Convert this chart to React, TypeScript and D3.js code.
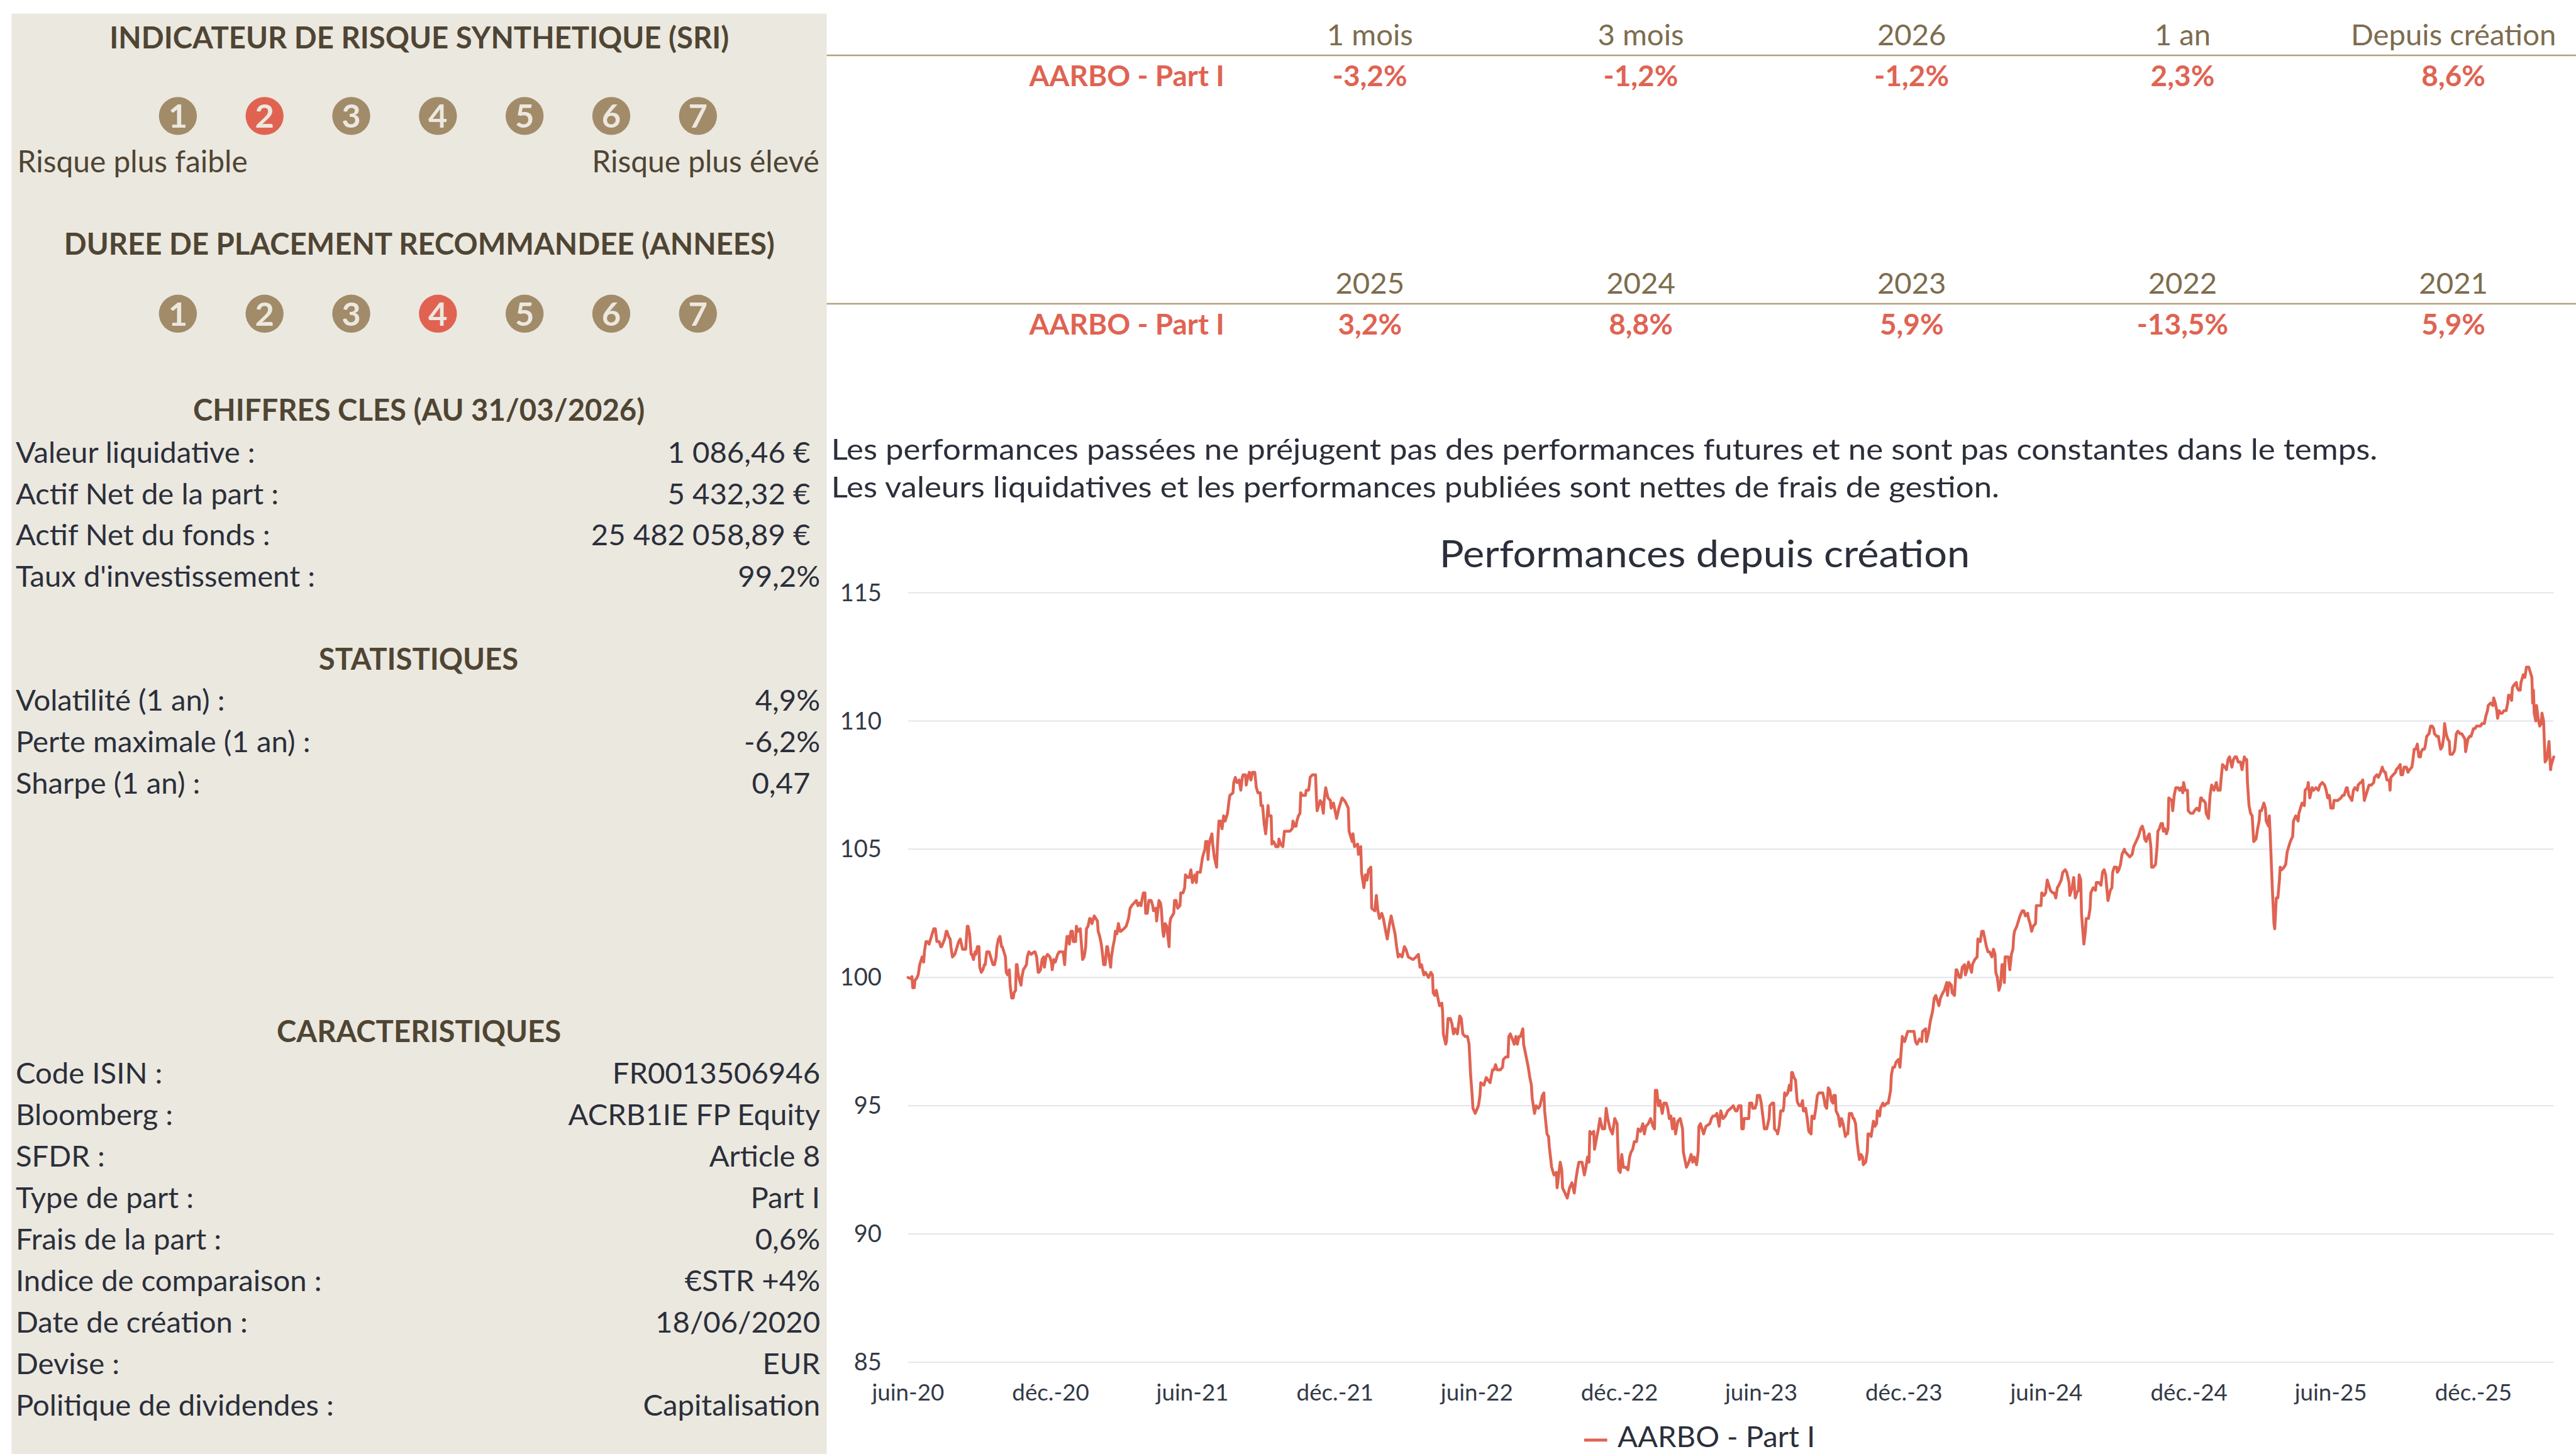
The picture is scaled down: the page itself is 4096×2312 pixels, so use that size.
import React from "react";
import * as d3 from "d3";

// ---------- scale from reference pixels to window ----------
const S = 0.6563;
const W = 4096;
const H = 2312;

// ---------- data ----------
const sriLevels = [1, 2, 3, 4, 5, 6, 7];
const sriSelected = 2;
const durationSelected = 4;

const keyFigureLabels = ["Valeur liquidative :", "Actif Net de la part :", "Actif Net du fonds :", "Taux d'investissement :"];
const keyFigureValues = ["1 086,46 €\u2004", "5 432,32 €\u2004", "25 482 058,89 €\u2004", "99,2%"];

const statLabels = ["Volatilité (1 an) :", "Perte maximale (1 an) :", "Sharpe (1 an) :"];
const statValues = ["4,9%", "-6,2%", "0,47\u2004"];

const charLabels = ["Code ISIN :", "Bloomberg :", "SFDR :", "Type de part :", "Frais de la part :", "Indice de comparaison :", "Date de création :", "Devise :", "Politique de dividendes :"];
const charValues = ["FR0013506946", "ACRB1IE FP Equity", "Article 8", "Part I", "0,6%", "€STR +4%", "18/06/2020", "EUR", "Capitalisation"];

const shareName = "AARBO - Part I";
const perfHeaders1 = ["1 mois", "3 mois", "2026", "1 an", "Depuis création"];
const perfValues1 = ["-3,2%", "-1,2%", "-1,2%", "2,3%", "8,6%"];
const perfHeaders2 = ["2025", "2024", "2023", "2022", "2021"];
const perfValues2 = ["3,2%", "8,8%", "5,9%", "-13,5%", "5,9%"];

const disclaimerLines = [
  "Les performances passées ne préjugent pas des performances futures et ne sont pas constantes dans le temps.",
  "Les valeurs liquidatives et les performances publiées sont nettes de frais de gestion.",
];
const chartTitle = "Performances depuis création";

const launchDate = "2020-06-18";
const lastDate = "2026-03-31";
const yTicks = [85, 90, 95, 100, 105, 110, 115];
const xTickDates = ["2020-06-18", "2020-12-18", "2021-06-18", "2021-12-18", "2022-06-18", "2022-12-18", "2023-06-18", "2023-12-18", "2024-06-18", "2024-12-18", "2025-06-18", "2025-12-18"];
const xTickLabels = ["juin-20", "déc.-20", "juin-21", "déc.-21", "juin-22", "déc.-22", "juin-23", "déc.-23", "juin-24", "déc.-24", "juin-25", "déc.-25"];

// [days since launch, base-100 value]
const navSeries: [number, number][] = [
[0,100.0],[3,99.96],[5,100.03],[6,99.6],[8,99.6],[9,99.9],[11,99.96],[13,100.1],[15,100.5],[16,100.6],[18,100.8],[20,100.6],[21,101.0],[23,101.4],[25,101.4],[27,101.3],[28,101.4],[30,101.6],[32,101.8],[33,101.9],[35,101.9],[37,101.4],[40,101.4],[42,101.2],[43,101.2],[47,101.5],[49,101.8],[50,101.8],[52,101.6],[54,101.5],[55,101.2],[57,100.8],[60,100.9],[62,101.1],[65,101.4],[67,101.5],[70,101.1],[74,101.1],[76,102.0],[77,102.0],[79,101.7],[81,100.9],[82,100.9],[84,100.7],[86,101.0],[87,100.9],[89,101.2],[91,101.2],[92,100.4],[94,100.2],[96,100.3],[98,100.5],[99,100.5],[101,101.0],[104,101.0],[106,100.8],[108,100.6],[109,100.5],[111,100.5],[113,100.8],[114,101.2],[116,101.5],[118,101.6],[120,101.2],[121,101.2],[125,100.8],[126,100.2],[128,100.1],[130,100.3],[131,99.7],[133,99.2],[135,99.2],[136,99.4],[138,99.5],[139,100.5],[140,100.5],[141,100.2],[143,99.9],[145,99.7],[146,100.0],[148,100.3],[152,100.5],[153,100.8],[155,101.0],[158,100.9],[162,101.0],[163,101.0],[165,100.8],[167,100.2],[168,100.2],[170,100.3],[172,100.7],[174,100.8],[175,100.4],[177,100.8],[179,100.9],[182,100.8],[184,100.6],[185,100.3],[187,100.7],[189,100.6],[192,100.9],[194,101.0],[197,101.0],[199,101.0],[201,100.5],[202,101.0],[204,101.6],[206,101.6],[207,101.3],[209,101.8],[211,101.8],[212,101.4],[215,101.4],[216,102.0],[218,101.8],[221,101.9],[222,101.5],[224,100.7],[226,100.8],[228,101.2],[229,101.9],[231,102.0],[233,102.3],[234,102.3],[236,102.1],[239,102.4],[241,102.3],[243,102.2],[244,101.8],[246,101.6],[248,101.3],[250,100.8],[251,100.5],[253,100.5],[255,101.2],[256,101.2],[258,100.8],[260,100.4],[261,100.8],[263,101.2],[265,101.5],[266,101.8],[268,101.7],[270,102.1],[272,101.8],[273,101.8],[277,101.9],[280,102.0],[283,102.3],[285,102.7],[287,102.8],[290,102.9],[293,103.0],[295,102.8],[297,102.9],[299,102.8],[300,103.0],[302,103.3],[304,103.3],[305,102.5],[307,102.5],[309,103.0],[312,103.0],[314,102.8],[315,102.6],[318,102.7],[319,102.2],[322,103.0],[324,102.9],[325,102.7],[327,101.8],[328,101.6],[329,101.8],[330,102.1],[332,102.0],[335,101.2],[336,102.1],[337,102.3],[341,102.5],[342,103.0],[344,103.0],[346,102.7],[349,102.8],[350,103.3],[353,103.3],[355,103.5],[356,104.0],[359,103.9],[361,103.9],[363,104.2],[365,103.7],[368,104.0],[370,103.7],[371,104.1],[375,104.1],[376,104.3],[378,104.7],[380,104.9],[381,105.0],[382,105.3],[384,105.3],[385,104.6],[386,105.1],[388,105.4],[390,105.6],[391,105.2],[393,104.7],[396,104.3],[397,105.1],[399,106.1],[401,106.1],[403,105.8],[405,106.3],[407,106.1],[410,106.4],[412,106.9],[413,107.1],[417,107.2],[418,107.6],[420,107.8],[422,107.6],[423,107.6],[425,107.7],[427,107.3],[429,107.8],[430,107.9],[433,107.9],[434,107.5],[436,107.8],[438,108.0],[440,107.7],[442,108.0],[445,108.0],[446,107.7],[447,107.4],[449,107.2],[452,107.2],[453,106.7],[455,106.7],[457,106.0],[459,105.6],[461,106.3],[462,106.7],[463,106.3],[466,106.3],[467,105.2],[469,105.3],[471,105.2],[472,105.1],[475,105.1],[476,105.4],[478,105.2],[481,105.1],[483,105.7],[486,105.7],[489,105.7],[490,105.7],[493,105.8],[494,106.1],[496,105.9],[498,105.9],[499,106.1],[501,106.3],[503,106.4],[504,107.2],[506,107.1],[510,107.1],[511,107.3],[514,107.3],[515,107.5],[516,107.8],[519,107.9],
[523,107.9],[524,107.1],[525,106.5],[529,106.9],[531,106.8],[533,106.4],[534,106.9],[536,107.4],[539,107.0],[542,106.9],[543,106.6],[546,106.8],[550,106.2],[553,106.6],[555,106.8],[557,107.0],[560,106.9],[562,106.8],[565,106.6],[566,105.7],[570,105.3],[571,105.6],[573,105.1],[577,105.2],[578,104.8],[581,105.1],[582,104.1],[585,103.5],[587,104.0],[589,103.8],[591,104.2],[594,104.3],[595,102.7],[599,102.6],[601,103.2],[603,102.6],[605,102.3],[608,102.5],[610,102.3],[613,101.8],[615,101.5],[618,102.1],[620,102.4],[625,101.7],[627,101.2],[629,100.8],[631,100.9],[634,100.8],[637,101.2],[639,101.1],[642,100.8],[648,100.7],[652,100.8],[655,100.9],[657,100.4],[659,100.5],[662,100.1],[664,100.2],[668,100.0],[671,100.2],[673,100.1],[674,99.4],[676,99.3],[678,99.5],[680,99.2],[682,98.9],[685,99.0],[686,98.7],[687,97.8],[690,97.4],[691,97.5],[693,98.4],[696,98.4],[698,98.2],[700,97.8],[702,98.0],[705,97.8],[708,98.5],[710,98.4],[712,97.8],[715,97.7],[718,97.7],[720,97.4],[722,96.2],[724,95.4],[725,94.9],[728,94.7],[732,95.0],[734,95.4],[735,95.9],[739,95.8],[742,96.1],[747,95.9],[750,96.4],[752,96.4],[754,96.6],[756,96.4],[760,96.4],[763,96.5],[764,96.8],[767,96.9],[770,96.9],[771,97.7],[773,97.8],[778,97.4],[780,97.7],[782,97.4],[784,97.7],[786,97.7],[789,98.0],[790,97.4],[792,97.1],[794,96.8],[796,96.5],[798,96.1],[800,95.8],[801,95.3],[804,94.7],[806,95.0],[809,94.9],[811,95.0],[814,95.4],[816,95.5],[817,94.8],[820,93.9],[822,93.8],[823,93.4],[826,92.6],[829,92.3],[832,92.4],[833,91.8],[835,92.3],[837,92.8],[839,92.5],[840,91.8],[843,91.6],[846,91.4],[849,91.8],[852,92.0],[855,91.6],[857,92.1],[859,92.5],[861,92.8],[865,92.8],[868,92.3],[870,92.6],[872,93.0],[874,92.8],[875,94.0],[877,93.9],[880,94.0],[881,93.3],[884,93.8],[886,94.1],[888,94.5],[891,94.1],[894,94.1],[896,94.9],[898,94.5],[901,94.1],[904,93.9],[907,94.5],[910,94.3],[912,92.5],[914,92.4],[916,93.1],[918,92.6],[921,92.6],[924,92.5],[926,93.0],[928,93.2],[930,93.3],[932,93.6],[935,93.6],[937,94.1],[940,94.0],[943,94.3],[945,93.9],[947,94.2],[950,94.3],[953,94.5],[956,94.2],[958,94.1],[959,95.6],[961,95.6],[963,95.0],[965,95.2],[968,94.7],[970,95.1],[973,95.1],[975,94.9],[977,94.5],[979,94.6],[981,94.1],[983,94.5],[985,93.9],[988,94.4],[991,94.5],[994,94.1],[995,93.2],[997,92.9],[999,92.6],[1002,92.8],[1005,93.1],[1007,92.8],[1009,93.0],[1012,92.7],[1014,93.2],[1015,94.2],[1017,94.3],[1021,93.9],[1024,94.2],[1029,94.3],[1031,94.5],[1033,94.6],[1036,94.6],[1038,94.7],[1041,94.2],[1043,94.8],[1046,94.5],[1049,94.6],
[1052,94.8],[1056,94.9],[1059,95.0],[1062,94.8],[1064,94.8],[1066,95.0],[1069,95.0],[1070,94.1],[1072,94.1],[1073,94.5],[1076,94.5],[1079,94.5],[1080,95.1],[1083,95.1],[1084,94.9],[1087,94.9],[1089,95.1],[1090,95.4],[1093,95.4],[1095,95.1],[1097,94.6],[1099,94.1],[1102,94.1],[1105,94.5],[1106,95.0],[1109,95.1],[1111,95.1],[1112,94.1],[1115,94.0],[1116,93.9],[1118,94.2],[1120,94.8],[1123,94.8],[1124,95.0],[1125,95.5],[1127,95.4],[1129,95.5],[1131,95.8],[1133,95.6],[1134,96.3],[1135,96.3],[1137,96.1],[1139,96.0],[1141,95.2],[1142,95.1],[1144,95.0],[1146,95.0],[1148,95.2],[1149,94.8],[1150,94.8],[1152,94.9],[1154,94.5],[1156,94.0],[1159,93.9],[1160,94.6],[1163,94.5],[1165,94.9],[1167,95.4],[1169,95.5],[1171,95.5],[1174,95.5],[1176,95.2],[1177,95.0],[1179,94.9],[1181,95.7],[1183,95.6],[1185,95.2],[1187,95.1],[1188,95.4],[1190,95.4],[1191,94.8],[1194,94.6],[1196,94.2],[1198,94.5],[1200,94.3],[1203,93.8],[1204,93.9],[1206,93.9],[1208,94.7],[1211,94.7],[1213,94.5],[1214,94.5],[1216,94.3],[1218,93.6],[1220,93.1],[1221,92.9],[1223,93.1],[1225,93.0],[1226,92.7],[1229,92.8],[1231,93.2],[1232,93.9],[1234,93.9],[1236,93.8],[1239,94.4],[1241,94.2],[1243,94.3],[1244,94.8],[1247,94.6],[1248,94.9],[1251,95.1],[1253,95.0],[1256,95.1],[1258,95.1],[1261,95.6],[1262,96.2],[1264,96.5],[1266,96.5],[1268,96.7],[1271,96.8],[1273,96.5],[1275,97.3],[1276,97.7],[1279,97.5],[1281,97.7],[1283,97.9],[1285,97.9],[1288,97.9],[1291,97.9],[1293,97.5],[1295,97.4],[1298,97.6],[1301,97.5],[1302,97.9],[1306,98.0],[1307,97.5],[1310,97.9],[1312,98.3],[1315,98.7],[1317,99.2],[1319,99.3],[1322,99.0],[1323,98.9],[1325,99.2],[1328,99.4],[1330,99.5],[1333,99.8],[1334,99.3],[1336,99.8],[1339,99.7],[1340,99.4],[1343,99.3],[1345,100.3],[1346,100.3],[1349,100.0],[1351,100.0],[1353,100.4],[1356,100.5],[1357,100.1],[1359,100.3],[1361,100.6],[1363,100.4],[1365,100.2],[1366,100.5],[1369,100.7],[1372,100.8],[1373,101.5],[1376,101.4],[1378,101.8],[1380,101.8],[1382,101.5],[1384,101.2],[1386,101.0],[1388,101.0],[1391,100.8],[1393,101.1],[1395,100.9],[1396,100.2],[1398,100.0],[1400,99.5],[1402,99.7],[1404,100.5],[1405,100.5],[1407,99.8],[1408,100.8],[1410,100.8],[1412,100.8],[1414,100.3],[1416,100.9],[1418,101.1],[1419,101.6],[1420,101.8],[1423,102.0],[1427,102.4],[1430,102.6],[1432,102.6],[1434,102.4],[1437,102.5],[1438,102.3],[1440,102.1],[1442,101.8],[1444,102.0],[1447,102.1],[1448,102.8],[1451,102.8],[1454,102.8],[1455,103.3],[1458,103.2],[1460,103.3],[1462,103.8],[1464,103.6],[1466,103.4],[1469,103.3],[1471,103.3],[1473,103.1],[1475,103.5],[1477,103.6],[1480,103.8],[1482,104.1],[1485,104.2],[1487,104.1],[1490,103.7],[1491,103.2],[1494,103.5],[1496,103.9],[1498,103.1],[1500,103.3],[1502,103.4],[1503,104.0],[1505,103.8],[1506,102.5],[1508,101.7],[1509,101.3],[1511,101.8],[1512,102.3],[1515,102.3],[1517,102.7],[1518,103.3],[1521,103.5],[1524,103.4],[1525,103.7],[1528,103.7],[1531,103.6],[1533,104.1],[1535,104.2],[1537,104.0],[1539,103.3],[1540,103.0],[1543,103.4],[1545,103.5],[1546,104.1],[1548,104.3],[1551,104.3],[1552,104.1],[1554,104.2],[1556,104.4],[1558,104.8],[1561,105.0],[1562,104.9],[1565,104.8],[1568,104.7],[1571,104.8],[1573,105.1],[1576,105.3],[1579,105.5],
[1580,105.6],[1582,105.8],[1584,105.9],[1586,105.7],[1587,105.4],[1589,105.3],[1591,105.5],[1593,105.6],[1595,105.1],[1596,104.3],[1598,104.3],[1601,104.4],[1603,105.1],[1604,105.7],[1606,105.8],[1608,106.0],[1610,106.0],[1611,105.7],[1613,105.8],[1615,105.6],[1617,105.8],[1618,107.0],[1622,106.9],[1623,106.5],[1625,107.1],[1627,107.4],[1630,107.4],[1632,107.3],[1634,107.4],[1636,107.2],[1637,107.6],[1639,107.3],[1642,107.3],[1643,106.5],[1646,106.4],[1649,106.4],[1651,106.5],[1654,106.6],[1657,106.5],[1659,107.0],[1660,107.0],[1661,106.9],[1663,106.9],[1665,106.8],[1666,106.4],[1669,106.2],[1671,107.1],[1673,107.5],[1676,107.3],[1679,107.6],[1681,107.3],[1684,107.3],[1685,107.7],[1687,108.3],[1690,108.2],[1692,108.1],[1694,108.5],[1696,108.6],[1699,108.2],[1701,108.5],[1703,108.6],[1705,108.6],[1707,108.4],[1710,108.4],[1712,108.1],[1715,108.6],[1716,108.5],[1718,108.5],[1719,107.6],[1721,106.7],[1723,106.4],[1725,106.3],[1727,105.3],[1730,105.4],[1732,105.8],[1734,106.1],[1735,106.5],[1737,106.5],[1740,106.8],[1742,106.6],[1743,106.1],[1746,105.9],[1747,106.3],[1748,105.7],[1751,103.4],[1753,102.1],[1754,101.9],[1756,103.1],[1758,103.1],[1760,103.8],[1761,104.3],[1763,104.2],[1766,104.3],[1768,104.4],[1770,104.9],[1772,105.1],[1774,105.3],[1777,105.5],[1778,106.1],[1781,106.3],[1784,106.1],[1785,106.4],[1787,106.6],[1789,106.8],[1792,106.7],[1793,107.3],[1796,107.4],[1797,107.6],[1799,107.0],[1802,107.4],[1804,107.3],[1807,107.4],[1810,107.3],[1812,107.5],[1815,107.6],[1818,107.5],[1820,107.3],[1822,107.0],[1824,107.1],[1826,106.6],[1829,106.6],[1830,106.9],[1833,106.9],[1835,106.9],[1839,107.0],[1841,107.1],[1843,107.1],[1846,107.4],[1847,107.4],[1849,107.1],[1853,106.9],[1855,107.3],[1857,107.4],[1860,107.3],[1861,107.5],[1864,107.6],[1865,107.6],[1867,107.7],[1869,106.9],[1871,107.1],[1873,107.3],[1875,107.5],[1878,107.5],[1881,107.6],[1882,107.8],[1885,107.9],[1887,107.8],[1890,108.0],[1892,108.2],[1893,108.1],[1895,108.0],[1896,108.0],[1898,107.7],[1901,107.7],[1902,107.3],[1903,107.8],[1906,107.9],[1909,108.0],[1910,108.1],[1913,108.2],[1915,108.3],[1916,107.9],[1918,107.9],[1920,108.2],[1923,108.2],[1925,108.0],[1927,108.1],[1930,108.2],[1931,108.4],[1933,108.9],[1935,108.9],[1937,109.1],[1939,108.6],[1941,108.6],[1942,108.8],[1944,108.9],[1946,108.9],[1947,109.0],[1949,109.4],[1952,109.5],[1954,109.8],[1956,109.8],[1958,109.7],[1959,109.5],[1962,109.4],[1964,109.4],[1965,109.2],[1967,108.9],[1969,109.0],[1971,109.4],[1972,109.9],[1974,109.5],[1976,109.3],[1978,109.2],[1979,108.7],[1982,108.7],[1984,108.8],[1985,108.9],[1987,109.5],[1989,109.6],[1992,109.5],[1994,109.5],[1996,109.4],[1998,109.3],[1999,108.8],[2002,109.3],[2004,109.4],[2006,109.4],[2009,109.7],[2011,109.7],[2013,109.8],[2016,109.8],[2018,109.8],[2020,109.9],[2023,109.9],[2025,110.2],[2027,110.4],[2028,110.6],[2031,110.7],[2034,110.6],[2035,110.9],[2037,110.7],[2039,110.4],[2040,110.1],[2042,110.4],[2044,110.3],[2046,110.3],[2048,110.4],[2051,110.4],[2053,110.7],[2054,111.0],[2056,111.0],[2058,110.8],[2059,111.3],[2061,111.4],[2064,111.5],[2065,111.3],[2067,111.2],[2069,111.2],[2070,111.5],[2072,111.7],[2073,111.8],[2075,111.7],[2077,112.1],[2078,112.1],[2080,112.1],[2082,111.9],[2084,111.7],[2085,110.7],[2086,111.2],[2087,110.3],[2089,110.0],[2090,110.6],[2092,110.1],[2094,109.8],[2096,109.9],[2097,110.3],[2099,110.0],[2101,108.4],[2103,108.5],[2104,108.7],[2106,109.2],[2108,108.1],[2109,108.3],[2111,108.5],[2112,108.6]
];

// ---------- styles ----------
const FONT = "Lato, 'Open Sans', 'Noto Sans', sans-serif";
const C = {
  panel: "#ebe8e0",
  title: "#4f4533",
  text: "#2b2f3a",
  tan: "#a18b69",
  red: "#e06352",
  digit: "#ece8df",
  header: "#7d6d4e",
  rule: "#b3a07c",
  grid: "#e2e5eb",
  axis: "#333a45",
};

// layout in reference pixels
const PANEL = { x: 28, y: 33, w: 1975, right: 2003 };
const CIRCLE = { x0: 431, dx: 210, r: 46, row1: 281, row2: 760 };
const LABEL_X = 38;
const VALUE_X = 1987;
const TITLE_CX = 1016;
const COLS = { label: 2730, x0: 3319, dx: 656.3 };
const PLOT = { left: 2200, right: 6187, top: 1436, bottom: 3300.5 };
const DISCLAIMER_WIDTHS = [3746, 2830];

function Circles({ cy, selected }: { cy: number; selected: number }) {
  return (
    <g>
      {sriLevels.map((lv, i) => {
        const cx = CIRCLE.x0 + CIRCLE.dx * i;
        return (
          <g key={lv}>
            <circle cx={cx} cy={cy} r={CIRCLE.r} fill={lv === selected ? C.red : C.tan} />
            <text x={cx} y={cy + 29} textAnchor="middle" fontSize={80} fontWeight={700} fill={C.digit}>
              {lv}
            </text>
          </g>
        );
      })}
    </g>
  );
}

function Rows({ labels, values, y0 }: { labels: string[]; values: string[]; y0: number }) {
  return (
    <g fontSize={72} fill={C.text}>
      {labels.map((l, i) => (
        <g key={l}>
          <text x={LABEL_X} y={y0 + i * 100.4}>{l}</text>
          <text x={VALUE_X} y={y0 + i * 100.4} textAnchor="end">{values[i]}</text>
        </g>
      ))}
    </g>
  );
}

function PerfTable({ headers, values, headY, ruleY, rowY }: { headers: string[]; values: string[]; headY: number; ruleY: number; rowY: number }) {
  return (
    <g>
      {headers.map((h, i) => (
        <text key={h} x={COLS.x0 + COLS.dx * i} y={headY} textAnchor="middle" fontSize={72} fill={C.header}>{h}</text>
      ))}
      <line x1={PANEL.right} x2={6241} y1={ruleY} y2={ruleY} stroke={C.rule} strokeWidth={4} />
      <text x={COLS.label} y={rowY} textAnchor="middle" fontSize={70} fontWeight={700} fill={C.red}>{shareName}</text>
      {values.map((v, i) => (
        <text key={i} x={COLS.x0 + COLS.dx * i} y={rowY} textAnchor="middle" fontSize={70} fontWeight={700} fill={C.red}>{v}</text>
      ))}
    </g>
  );
}

export default function App() {
  const parse = d3.timeParse("%Y-%m-%d");
  const launch = parse(launchDate)!;
  const end = parse(lastDate)!;
  const x = d3.scaleTime().domain([launch, end]).range([PLOT.left, PLOT.right]);
  const y = d3.scaleLinear().domain([85, 115]).range([PLOT.bottom, PLOT.top]);
  const line = d3
    .line<[number, number]>()
    .x((d) => x(d3.timeDay.offset(launch, d[0])))
    .y((d) => y(d[1]));

  return (
    <svg
      width={W}
      height={H}
      viewBox={`0 0 ${W} ${H}`}
      style={{ position: "absolute", left: 0, top: 0, display: "block", background: "#ffffff" }}
      fontFamily={FONT}
    >
      <g transform={`scale(${S})`}>
        {/* left panel */}
        <rect x={PANEL.x} y={PANEL.y} width={PANEL.w} height={3523 - PANEL.y} fill={C.panel} />
        <g fontWeight={700} fontSize={72} fill={C.title} textAnchor="middle">
          <text x={TITLE_CX} y={117}>INDICATEUR DE RISQUE SYNTHETIQUE (SRI)</text>
          <text x={TITLE_CX} y={617}>DUREE DE PLACEMENT RECOMMANDEE (ANNEES)</text>
          <text x={1015} y={1019}>CHIFFRES CLES (AU 31/03/2026)</text>
          <text x={1014} y={1622}>STATISTIQUES</text>
          <text x={1015} y={2525}>CARACTERISTIQUES</text>
        </g>
        <Circles cy={CIRCLE.row1} selected={sriSelected} />
        <text x={42} y={417} fontSize={73} fill={C.title}>Risque plus faible</text>
        <text x={1985} y={417} fontSize={73} fill={C.title} textAnchor="end">Risque plus élevé</text>
        <Circles cy={CIRCLE.row2} selected={durationSelected} />
        <Rows labels={keyFigureLabels} values={keyFigureValues} y0={1121} />
        <Rows labels={statLabels} values={statValues} y0={1722} />
        <Rows labels={charLabels} values={charValues} y0={2626} />

        {/* performance tables */}
        <PerfTable headers={perfHeaders1} values={perfValues1} headY={109} ruleY={134} rowY={209} />
        <PerfTable headers={perfHeaders2} values={perfValues2} headY={711} ruleY={736} rowY={811} />

        {/* disclaimer */}
        <g fontSize={72} fill={C.text}>
          {disclaimerLines.map((t, i) => (
            <text key={i} x={2014} y={1114 + i * 91} textLength={DISCLAIMER_WIDTHS[i]} lengthAdjust="spacingAndGlyphs">{t}</text>
          ))}
        </g>

        {/* chart */}
        <text x={4130} y={1374} textAnchor="middle" fontSize={91} fill={C.text} textLength={1285} lengthAdjust="spacingAndGlyphs">{chartTitle}</text>
        {yTicks.map((t) => (
          <g key={t}>
            <line x1={PLOT.left} x2={PLOT.right} y1={y(t)} y2={y(t)} stroke={C.grid} strokeWidth={3} />
            <text x={2136} y={y(t) + 20} textAnchor="end" fontSize={58} fill={C.axis}>{t}</text>
          </g>
        ))}
        {xTickDates.map((d, i) => (
          <text key={d} x={x(parse(d)!)} y={3393} textAnchor="middle" fontSize={56} fill={C.axis}>
            {xTickLabels[i]}
          </text>
        ))}
        <path d={line(navSeries) ?? ""} fill="none" stroke={C.red} strokeWidth={7} strokeLinejoin="round" strokeLinecap="round" />

        {/* legend */}
        <line x1={3838} x2={3894} y1={3489} y2={3489} stroke={C.red} strokeWidth={7} />
        <text x={3919} y={3506} fontSize={72} fill={C.text}>{shareName}</text>
      </g>
    </svg>
  );
}
